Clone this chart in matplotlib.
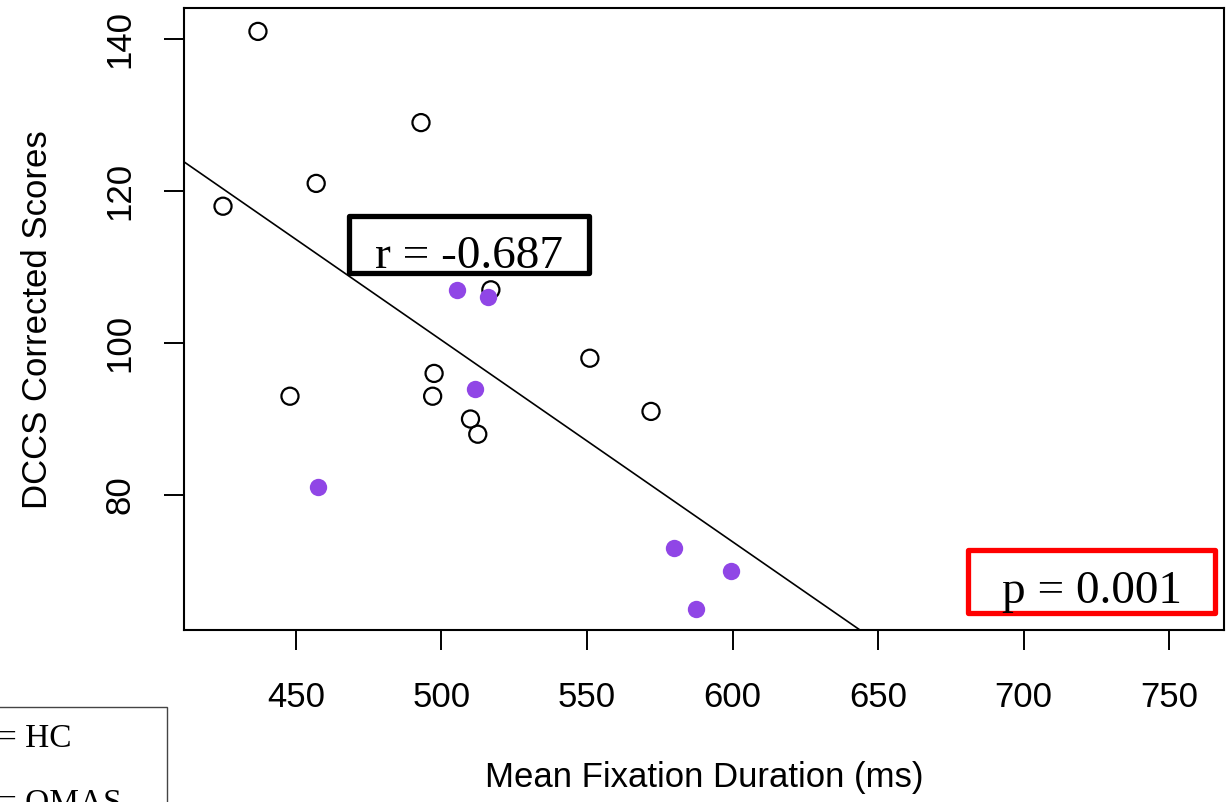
import numpy as np
import matplotlib
matplotlib.use("Agg")
import matplotlib.pyplot as plt
from matplotlib.patches import Rectangle

# HC group (open circles)
hc_fix = [437, 493, 457, 425, 517, 551, 497.5, 497, 448, 510, 512.5, 572]
hc_dccs = [141, 129, 121, 118, 107, 98, 96, 93, 93, 90, 88, 91]

# OMAS group (filled purple)
omas_fix = [505.5, 516, 511.5, 457.5, 580, 599.5, 587.5]
omas_dccs = [107, 106, 94, 81, 73, 70, 65]

x_ticks = [450, 500, 550, 600, 650, 700, 750]
y_ticks = [80, 100, 120, 140]

r_text = "r = -0.687"
p_text = "p = 0.001"
purple = "#9046E6"

plt.rcParams['font.family'] = ['Liberation Sans', 'DejaVu Sans']

fig = plt.figure(figsize=(12.29, 8.02), dpi=100)
ax = fig.add_axes([184 / 1229, 1 - 630 / 802, 1040 / 1229, 621.7 / 802])

ax.scatter(hc_fix, hc_dccs, s=12.3 ** 2, facecolors="none", edgecolors="black",
           linewidths=1.6, zorder=3)
ax.scatter(omas_fix, omas_dccs, s=12.5 ** 2, color=purple, linewidths=0, zorder=3)

# regression line on all points (abline style)
all_x = np.array(hc_fix + omas_fix)
all_y = np.array(hc_dccs + omas_dccs)
slope, intercept = np.polyfit(all_x, all_y, 1)

ax.set_xlim(411.6, 768.8)
ax.set_ylim(62.24, 144.04)
xl = np.array(ax.get_xlim())
ax.plot(xl, intercept + slope * xl, color="black", lw=1.2, zorder=2)

ax.set_xticks(x_ticks)
ax.set_yticks(y_ticks)
ax.tick_params(axis="both", length=14.4, width=1.4, labelsize=25)
ax.tick_params(axis="x", pad=22)
ax.tick_params(axis="y", pad=20, labelrotation=90)
for lab in ax.get_yticklabels():
    lab.set_va("center")

for sp in ax.spines.values():
    sp.set_linewidth(1.5)

ax.set_xlabel("Mean Fixation Duration (ms)", fontsize=25)
ax.set_ylabel("DCCS Corrected Scores", fontsize=25)
ax.xaxis.set_label_coords(0.5, -0.238)
ax.yaxis.set_label_coords(-0.1404, 0.5)
ax.xaxis.label.set_va("center")
ax.yaxis.label.set_va("center")

# annotation boxes
ax.add_patch(Rectangle((468.4, 109.25), 82.4, 7.45, fill=False, edgecolor="black",
                       lw=3.8, joinstyle="round", zorder=4))
ax.text(509.6, 109.9, r_text, family="Liberation Serif", fontsize=34,
        ha="center", va="baseline", zorder=5)

ax.add_patch(Rectangle((681.0, 64.5), 84.7, 8.26, fill=False, edgecolor="red",
                       lw=3.8, joinstyle="round", zorder=4, clip_on=False))
ax.text(723.6, 65.83, p_text, family="Liberation Serif", fontsize=34,
        ha="center", va="baseline", zorder=5)

# legend box, cut off at the lower left corner (as in the source image)
fig.patches.append(Rectangle((-10 / 1229, -30 / 802), 177 / 1229, 125 / 802,
                             transform=fig.transFigure, fill=False,
                             edgecolor="#444444", lw=1.0))
fig.text(-2 / 1229, 1 - 746.7 / 802, "= HC", family="Liberation Serif",
         fontsize=24, va="baseline")
fig.text(-2 / 1229, 1 - 812 / 802, "= OMAS", family="Liberation Serif",
         fontsize=24, va="baseline")

fig.savefig("out.png", dpi=100)
